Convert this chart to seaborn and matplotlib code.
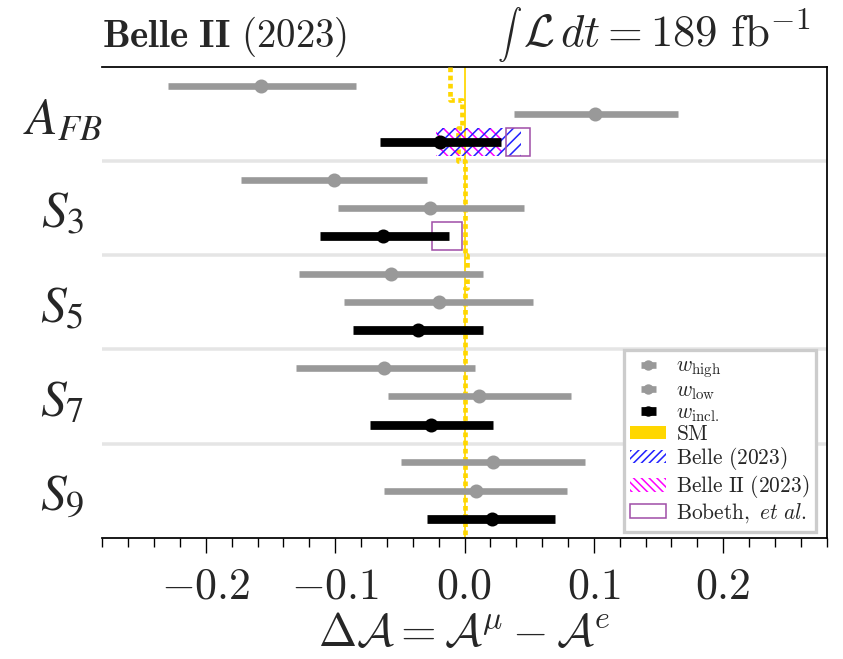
import numpy as np
import pandas as pd
import matplotlib
matplotlib.use("Agg")
import matplotlib.pyplot as plt
import seaborn as sns
from matplotlib.patches import Rectangle, Patch
from matplotlib.legend_handler import HandlerErrorbar
from matplotlib.container import ErrorbarContainer

# ---------------- data ----------------
observables = [r"$A_{FB}$", r"$S_3$", r"$S_5$", r"$S_7$", r"$S_9$"]

high_val = [-0.157, -0.101, -0.057, -0.062, 0.022]
high_lo = [-0.229, -0.173, -0.128, -0.130, -0.049]
high_hi = [-0.084, -0.029, 0.014, 0.008, 0.093]

low_val = [0.101, -0.027, -0.020, 0.011, 0.009]
low_lo = [0.038, -0.098, -0.093, -0.059, -0.062]
low_hi = [0.165, 0.046, 0.053, 0.082, 0.079]

incl_val = [-0.019, -0.063, -0.036, -0.026, 0.021]
incl_lo = [-0.065, -0.112, -0.086, -0.073, -0.029]
incl_hi = [0.028, -0.012, 0.014, 0.022, 0.070]

sm_high = [-0.0115, 0.0, 0.002, 0.0, 0.0]
sm_low = [-0.002, 0.0, 0.0, 0.0, 0.0]
sm_incl = [-0.005, 0.0, 0.0, 0.0, 0.0]

belle_afb = [-0.021, 0.044]
belle2_afb = [-0.022, 0.029]
bobeth_obs = [0, 1]
bobeth_lo = [0.032, -0.025]
bobeth_hi = [0.051, -0.002]

xtick_vals = [-0.2, -0.1, 0.0, 0.1, 0.2]
xtick_labels = [r"$-0.2$", r"$-0.1$", r"$0.0$", r"$0.1$", r"$0.2$"]

series_labels = [r"$w_{\rm high}$", r"$w_{\rm low}$", r"$w_{\rm incl.}$"]

# ---------------- style ----------------
sns.set_theme(style="white")
plt.rcParams["mathtext.fontset"] = "cm"
plt.rcParams["font.family"] = ["DejaVu Serif"]
plt.rcParams["hatch.linewidth"] = 0.8

GRAY = "#999999"
GOLD = "#FFD700"
PURPLE = "#A050A8"
BLUE = "#2222FF"
MAGENTA = "#FF00FF"

DPI = 140
W, H = 843, 659
fig = plt.figure(figsize=(W / DPI, H / DPI), dpi=DPI)
ax = fig.add_axes([102.3 / W, 1 - 537.7 / H, (826.7 - 102.3) / W, (537.7 - 66.7) / H])

offsets = [-0.3, 0.0, 0.3]
ngroups = len(observables)

# separators
for i in range(ngroups - 1):
    ax.axhline(i + 0.5, color="#e5e5e5", lw=1.8, zorder=1)

# SM reference line
ax.axvline(0.0, color=GOLD, lw=0.9, zorder=2)

# SM dotted step line
sm_x, sm_y = [], []
for i in range(ngroups):
    for arr, (a, b) in zip([sm_high, sm_low, sm_incl],
                           [(-0.5, -0.15), (-0.15, 0.15), (0.15, 0.5)]):
        sm_x += [arr[i], arr[i]]
        sm_y += [i + a, i + b]
sm_df = pd.DataFrame({"x": sm_x, "y": sm_y})
sns.lineplot(data=sm_df, x="x", y="y", sort=False, estimator=None, ax=ax,
             color=GOLD, lw=2.4, linestyle=(0, (1, 0.75)), zorder=3, legend=False)

# measurement boxes (A_FB inclusive row)
yb = 0 + 0.3
ax.add_patch(Rectangle((belle2_afb[0], yb - 0.15), belle2_afb[1] - belle2_afb[0], 0.3,
                       facecolor="none", edgecolor=MAGENTA, hatch="\\\\\\\\", lw=0, zorder=4))
ax.add_patch(Rectangle((belle_afb[0], yb - 0.15), belle_afb[1] - belle_afb[0], 0.3,
                       facecolor="none", edgecolor=BLUE, hatch="////", lw=0, zorder=4))
for o, lo, hi in zip(bobeth_obs, bobeth_lo, bobeth_hi):
    ax.add_patch(Rectangle((lo, o + 0.3 - 0.15), hi - lo, 0.3,
                           facecolor="none", edgecolor=PURPLE, lw=0.8, zorder=4))

# error bars
handles = []
for k, (vals, los, his, col, lw, ms, lab) in enumerate([
        (high_val, high_lo, high_hi, GRAY, 3.4, 6.2, series_labels[0]),
        (low_val, low_lo, low_hi, GRAY, 3.4, 6.2, series_labels[1]),
        (incl_val, incl_lo, incl_hi, "black", 4.5, 6.2, series_labels[2])]):
    v = np.array(vals)
    y = np.arange(ngroups) + offsets[k]
    xerr = [v - np.array(los), np.array(his) - v]
    h = ax.errorbar(v, y, xerr=xerr, fmt="o", color=col, ecolor=col, ms=ms,
                    elinewidth=lw, capsize=0, zorder=5 + k, label=lab)
    handles.append(h)

ax.set_xlim(-0.28, 0.28)
ax.set_ylim(ngroups - 0.5, -0.5)

# spines
for s in ["top", "right", "bottom"]:
    ax.spines[s].set_visible(True)
    ax.spines[s].set_color("black")
    ax.spines[s].set_linewidth(0.9)
ax.spines["left"].set_visible(False)

# x ticks
ax.set_xticks(xtick_vals)
ax.set_xticklabels(xtick_labels, fontsize=22.5)
ax.set_xticks(np.round(np.arange(-0.28, 0.2801, 0.02), 2), minor=True)
ax.tick_params(axis="x", which="major", direction="out", length=7.6, width=0.7,
               color="black", pad=6, bottom=True)
ax.tick_params(axis="x", which="minor", direction="out", length=4.6, width=0.7,
               color="black", bottom=True)

# y ticks
ax.set_yticks(np.arange(ngroups))
ax.set_yticklabels(observables, fontsize=26.5)
for t in ax.get_yticklabels():
    t.set_math_fontfamily("stix")
    t.set_horizontalalignment("center")
ax.tick_params(axis="y", length=0, pad=20.6, left=True)

ax.set_xlabel(r"$\Delta\mathcal{A} = \mathcal{A}^{\mu} - \mathcal{A}^{e}$", fontsize=23.5, labelpad=2)
ax.set_ylabel("")
ax.grid(False)

# titles
fig.text(102 / W, 1 - 47 / H, r"$\mathbf{Belle\ II}\ \mathrm{(2023)}$",
         fontsize=20, ha="left", va="baseline")
rt = fig.text(810 / W, 1 - 47 / H, r"$\mathcal{L}\,dt = 189\ \mathrm{fb}^{-1}$",
              fontsize=23, ha="right", va="baseline")
fig.canvas.draw()
bb = rt.get_window_extent()
fig.text((bb.x0 - 1) / W, 1 - 43 / H, r"$\int$", fontsize=12.5, ha="right", va="baseline")

# legend
handles += [
    Patch(facecolor=GOLD, edgecolor="none", label=r"$\mathrm{SM}$"),
    Patch(facecolor="white", edgecolor=BLUE, hatch="//////", lw=0, label=r"$\mathrm{Belle\ (2023)}$"),
    Patch(facecolor="white", edgecolor=MAGENTA, hatch="\\\\\\\\\\\\", lw=0, label=r"$\mathrm{Belle\ II\ (2023)}$"),
    Patch(facecolor="white", edgecolor=PURPLE, lw=0.8, label=r"$\mathrm{Bobeth,}\ et\ al.$"),
]
leg = ax.legend(handles=handles, loc="lower right", bbox_to_anchor=(0.9859, 0.0125),
                borderaxespad=0, fontsize=11, frameon=True, fancybox=False,
                framealpha=1, edgecolor="#cccccc", markerscale=0.7,
                handlelength=1.65, handleheight=0.62, handletextpad=0.5,
                labelspacing=0.05, borderpad=0.32,
                handler_map={ErrorbarContainer: HandlerErrorbar(xerr_size=0.35)})
leg.get_frame().set_linewidth(1.7)

fig.savefig("out.png", dpi=DPI)
